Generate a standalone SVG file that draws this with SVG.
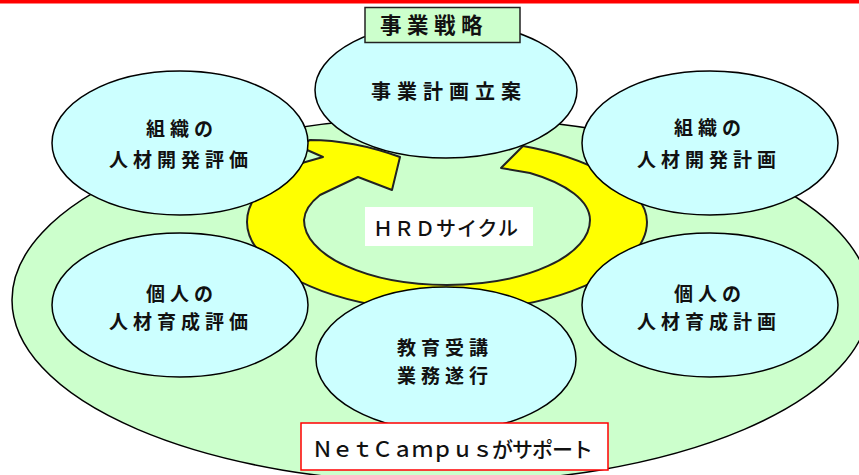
<svg xmlns="http://www.w3.org/2000/svg" width="859" height="475" viewBox="0 0 859 475">
<style>
.node{fill:#CCFFFF;stroke:#000;stroke-width:1.5}
.t{font-family:"Noto Sans CJK JP","Noto Sans CJK SC",sans-serif;font-weight:bold;fill:#111}
.n{font-size:19px;letter-spacing:5px}
</style>
<rect x="0" y="0" width="859" height="3.5" fill="#FF0000"/>
<g id="background">
<ellipse cx="441" cy="300" rx="429" ry="183" fill="#CCFFCC" stroke="#000" stroke-width="1.5"/>
</g>
<g id="connectors">
<path d="M400,157 L392,190 L358,177 L320,195 A143,58 0 0 0 304,220 A143,65 0 0 0 447,285 A143,65 0 0 0 590,220 A143,58 0 0 0 530,173 L501,168 L523,146 C580,156 647,185 647,222 C647,255 600,290 520,305 Q447,318 374,305 C294,290 247,255 247,222 C247,200 265,180 295,165 L323,157 L298,146 L310,140 C345,140 375,148 400,157 Z" fill="#FFFF00" stroke="#222" stroke-width="2" stroke-linejoin="round"/>
</g>
<g id="hrd">
<rect x="365" y="207" width="168" height="39" fill="#FFFFFF"/>
<text class="t" x="373" y="235.5" style="font-size:20px;letter-spacing:1px;font-weight:500">ＨＲＤサイクル</text>
</g>
<g id="node-org-eval">
<ellipse class="node" cx="180" cy="143" rx="128" ry="72"/>
<text class="t n" x="146" y="136">組織の</text>
<text class="t n" x="109" y="167">人材開発評価</text>
</g>
<g id="node-org-plan">
<ellipse class="node" cx="710" cy="143" rx="128" ry="72"/>
<text class="t n" x="674" y="135">組織の</text>
<text class="t n" x="637" y="167">人材開発計画</text>
</g>
<g id="node-ind-eval">
<ellipse class="node" cx="180" cy="305" rx="128" ry="72"/>
<text class="t n" x="146" y="301">個人の</text>
<text class="t n" x="109" y="329">人材育成評価</text>
</g>
<g id="node-ind-plan">
<ellipse class="node" cx="710" cy="305" rx="128" ry="72"/>
<text class="t n" x="674" y="301">個人の</text>
<text class="t n" x="637" y="329">人材育成計画</text>
</g>
<g id="node-training">
<ellipse class="node" cx="446" cy="359" rx="130" ry="72"/>
<text class="t n" x="397" y="355">教育受講</text>
<text class="t n" x="397" y="383">業務遂行</text>
</g>
<g id="node-bizplan">
<ellipse class="node" cx="446" cy="90" rx="131" ry="68"/>
<text class="t" x="371" y="99" style="font-size:20px;letter-spacing:6px">事業計画立案</text>
</g>
<g id="label-strategy">
<rect x="365" y="7.5" width="155" height="35" fill="#CCFFCC" stroke="#222" stroke-width="1.5"/>
<text class="t" x="380" y="33" style="font-size:21.5px;letter-spacing:5.5px">事業戦略</text>
</g>
<g id="label-netcampus">
<rect x="301" y="423" width="307" height="47" fill="#FFFFFF" stroke="#FF0000" stroke-width="1.5"/>
<text class="t" x="312" y="457" style="font-size:21px;letter-spacing:-1px;font-weight:500">ＮｅｔＣａｍｐｕｓがサポート</text>
</g>
</svg>
